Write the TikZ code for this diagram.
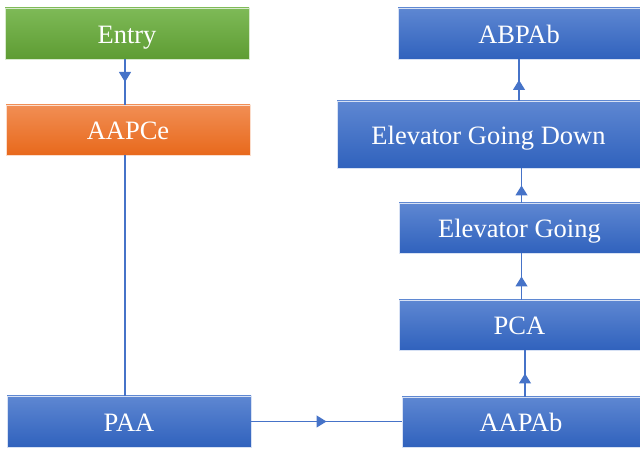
\documentclass[tikz,border=0pt]{standalone}
\usepackage{fontspec}
\setmainfont{Liberation Serif}
\usetikzlibrary{arrows.meta,decorations.markings}
\definecolor{bluetop}{HTML}{5E87D2}
\definecolor{bluebot}{HTML}{3062BD}
\definecolor{greentop}{HTML}{7EBA57}
\definecolor{greenbot}{HTML}{5E9C33}
\definecolor{orangetop}{HTML}{F18E54}
\definecolor{orangebot}{HTML}{E8691C}
\definecolor{linec}{HTML}{4673C8}
\tikzset{
  box/.style={rectangle, inner sep=0pt, text=white, font=\fontsize{26.5}{30}\selectfont,
    text height=20pt, text depth=0pt,
    shading angle=0, top color=bluetop, bottom color=bluebot, draw=white!75!bluetop, line width=0.6pt},
  greenbox/.style={box, top color=greentop, bottom color=greenbot, draw=white!70!greentop},
  orangebox/.style={box, top color=orangetop, bottom color=orangebot, draw=white!70!orangetop},
  conn/.style={draw=linec, line width=1.2pt},
  midarrow/.style={conn, postaction={decorate}, decoration={markings,
    mark=at position 0.5 with {\arrow[linec]{Triangle[length=10pt,width=12pt]}}}}
}
\begin{document}
\begin{tikzpicture}[x=1pt,y=1pt]
\useasboundingbox (0,0) rectangle (640,449);
\node[greenbox, minimum width=244, minimum height=51] (entry) at (127,415.5) {Entry};
\node[orangebox, minimum width=244, minimum height=50] (aapce) at (128,319) {AAPCe};
\node[box, minimum width=244, minimum height=51] (paa) at (129,27.5) {PAA};
\node[box, minimum width=238, minimum height=50] (aapab) at (521,27) {AAPAb};
\node[box, minimum width=241, minimum height=50] (pca) at (519.5,124) {PCA};
\node[box, minimum width=241, minimum height=50] (eg) at (519.5,221) {Elevator Going};
\node[box, minimum width=303, minimum height=67] (egd) at (488.5,314.5) {Elevator Going Down};
\node[box, minimum width=242, minimum height=51] (abpab) at (519,415.5) {ABPAb};
\draw[midarrow] ([xshift=-2pt]entry.south) -- ([xshift=-2pt]entry.south |- aapce.north);
\draw[conn] ([xshift=-3pt]aapce.south) -- ([xshift=-3pt]aapce.south |- paa.north);
\draw[midarrow] (paa.east) -- (paa.east -| aapab.west);
\draw[midarrow] ([xshift=4pt]aapab.north) -- ([xshift=4pt]aapab.north |- pca.south);
\draw[midarrow] ([xshift=2pt]pca.north) -- ([xshift=2pt]pca.north |- eg.south);
\draw[midarrow] ([xshift=2pt]eg.north) -- ([xshift=2pt]eg.north |- egd.south);
\draw[midarrow] (abpab.south |- egd.north) -- (abpab.south);
\end{tikzpicture}
\end{document}
